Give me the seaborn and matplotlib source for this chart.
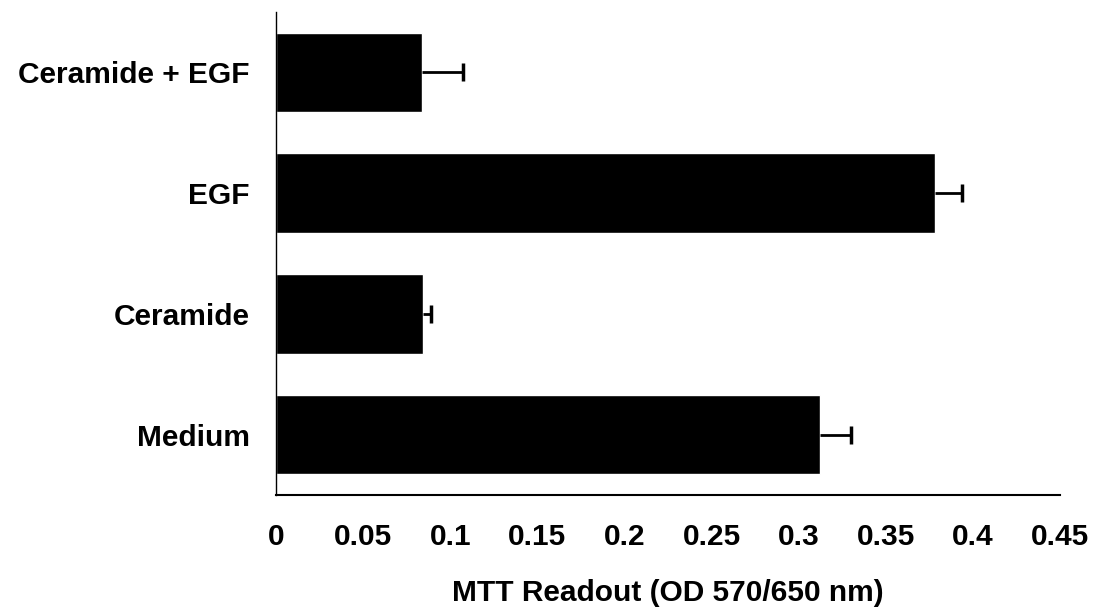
import matplotlib
matplotlib.use("Agg")
import matplotlib.pyplot as plt
import seaborn as sns
import pandas as pd

categories = ["Ceramide + EGF", "EGF", "Ceramide", "Medium"]
values = [0.0836, 0.378, 0.0842, 0.312]
errors = [0.024, 0.016, 0.005, 0.018]
xticks = [0, 0.05, 0.1, 0.15, 0.2, 0.25, 0.3, 0.35, 0.4, 0.45]
xticklabels = ["0", "0.05", "0.1", "0.15", "0.2", "0.25", "0.3", "0.35", "0.4", "0.45"]
xlabel = "MTT Readout (OD 570/650 nm)"

sns.set_theme(style="white")
plt.rcParams["font.family"] = ["Liberation Sans", "DejaVu Sans"]
plt.rcParams["text.color"] = "black"
plt.rcParams["axes.labelcolor"] = "black"
plt.rcParams["xtick.color"] = "black"
plt.rcParams["ytick.color"] = "black"

FS = 21.5

df = pd.DataFrame({"cond": categories, "val": values})

fig = plt.figure(figsize=(11, 6.12), dpi=100)
ax = fig.add_axes([276/1100, 1-495/612, (1060-276)/1100, (495-12)/612])

sns.barplot(data=df, x="val", y="cond", order=categories, color="black",
            width=0.66, orient="h", ax=ax, errorbar=None, saturation=1)
eb = ax.errorbar(values, range(len(categories)), xerr=[[0]*len(errors), errors],
                 fmt="none", ecolor="black", elinewidth=2, capsize=6.5, capthick=2.5)
# hide caps at the bar end (one-sided error bars)
eb[1][0].set_visible(False)

ax.set_xlim(0, 0.45)
ax.set_ylim(3.5, -0.5)
ax.set_xticks(xticks)
ax.set_xticklabels(xticklabels)
ax.tick_params(axis="x", direction="out", length=4, width=1, color="black",
               pad=16, labelsize=FS, labelcolor="black")
ax.tick_params(axis="y", length=0, pad=19, labelsize=FS, labelcolor="black")
for lab in ax.get_xticklabels() + ax.get_yticklabels():
    lab.set_fontweight("bold")
ax.set_xlabel(xlabel, fontsize=FS, fontweight="bold", labelpad=20, color="black")
ax.set_ylabel("")
for s in ["top", "right"]:
    ax.spines[s].set_visible(False)
ax.spines["left"].set_color("black")
ax.spines["left"].set_linewidth(1)
ax.spines["bottom"].set_color("black")
ax.spines["bottom"].set_linewidth(1.5)

fig.savefig("out.png", dpi=100)
